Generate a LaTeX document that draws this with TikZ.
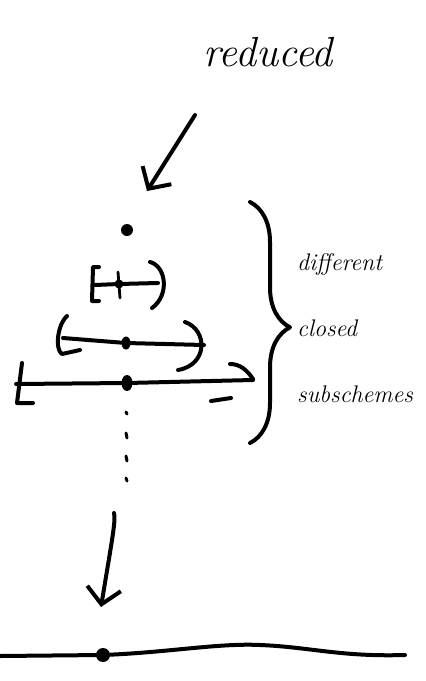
\documentclass[tikz,border=0pt]{standalone}
\usepackage{fontspec}
\usetikzlibrary{arrows.meta,positioning,decorations.pathreplacing,shapes.geometric}

\begin{document}
\begin{tikzpicture}[
  x=1pt,y=-1pt,
  pen/.style={line width=4pt,line cap=round,line join=round},
  arr/.style={pen,-{Straight Barb[length=16pt,width=34pt,line width=4pt]}},
  pt/.style={circle,fill,inner sep=0pt,minimum size=12pt},
  hand/.style={inner sep=0pt,font=\fontsize{42}{42}\selectfont\itshape},
  side/.style={inner sep=0pt,align=left,font=\fontsize{24}{66}\selectfont\itshape},
]
\useasboundingbox (0,0) rectangle (426,681);

% label on top
\node[hand] (red) at (268,52) {reduced};
\coordinate (a0) at (195,115);
\coordinate (a1) at (147,191);
\draw[arr] (a0) -- (a1);

% the points
\node[pt] (p0) at (127,230) {};
\node[pt,minimum size=9pt] (p1) at (119,284) {};
\node[pt,ellipse,minimum width=9pt,minimum height=13pt] (p2) at (126,343) {};
\node[pt,ellipse,minimum width=11pt,minimum height=16pt] (p3) at (127,383) {};
\draw[pen,line width=2.8pt] (118,272) -- (120,298);

% small interval
\draw[pen] (99,267) -- (93,267) -- (92,301) -- (99,301);
\draw[pen] (95,285) -- (p1) -- (158,283);
\draw[pen] (150,262) .. controls (166,266) and (170,295) .. (152,308);

% middle interval
\draw[pen] (67,316) .. controls (57,325) and (55,350) .. (62,354) -- (80,350);
\draw[pen] (63,338) -- (p2) -- (204,345);
\draw[pen] (185,322) .. controls (208,330) and (208,365) .. (178,370);

% large interval
\draw[pen] (22,363) -- (17,403) -- (33,403);
\draw[pen] (16,384) -- (p3) -- (253,380);
\draw[pen] (230,364) .. controls (240,364) and (247,370) .. (253,379);
\draw[pen] (211,401) -- (231,398);

% dotted continuation
\foreach \y/\l in {412/2,433/5,456/5,478/3}
  \draw[pen,line width=3pt] (126,\y) -- (127,\y+\l);

% brace and text
\draw[pen,decorate,decoration={brace,amplitude=40pt,aspect=0.52}] (250,202) -- (250,443);
\node[side,anchor=north west] (txt) at (297,253) {different\\closed\\subschemes};

% down to the reduced line
\coordinate (b0) at (114,513);
\coordinate (b1) at (101,607);
\draw[arr] (b0) .. controls (116,520) and (112,540) .. (b1);

% the line
\node[pt,minimum size=14pt] (q) at (103,655) {};
\coordinate (l0) at (0,656);
\coordinate (l1) at (405,655);
\draw[pen] (l0) -- (q) .. controls (170,652) and (220,643) .. (260,645)
  .. controls (310,647) and (340,657) .. (l1);
\end{tikzpicture}
\end{document}
